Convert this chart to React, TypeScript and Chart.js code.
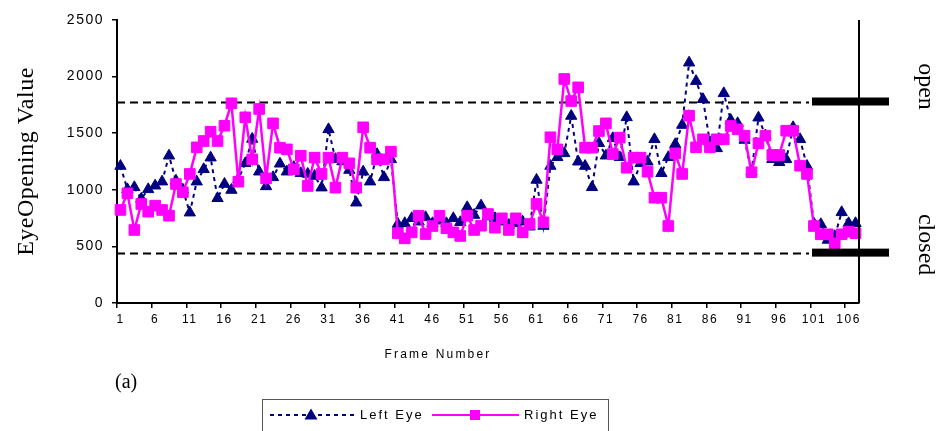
import React, { useEffect, useRef } from "react";
import { Chart, registerables } from "chart.js";

Chart.register(...registerables);

// Frame numbers (categories)
const frames: string[] = Array.from({ length: 107 }, (_, i) => String(i + 1));
const shownFrameLabels: string[] = ["1", "6", "11", "16", "21", "26", "31", "36", "41", "46", "51", "56", "61", "66", "71", "76", "81", "86", "91", "96", "101", "106"];

const leftEye: number[] = [
  1210, 1004, 1022, 920, 1004, 1036, 1072, 1301, 1080, 1000,
  798, 1072, 1181, 1284, 925, 1051, 998, 1093, 1234, 1449,
  1160, 1030, 1110, 1230, 1160, 1200, 1146, 1140, 1122, 1019,
  1534, 1270, 1250, 1175, 886, 1160, 1072, 1314, 1110, 1269,
  698, 704, 748, 718, 757, 704, 727, 704, 748, 713,
  845, 777, 860, 763, 748, 718, 689, 704, 718, 674,
  1087, 680, 1210, 1287, 1322, 1652, 1248, 1210, 1022, 1411,
  1301, 1455, 1287, 1640, 1072, 1234, 1248, 1446, 1146, 1287,
  1402, 1572, 2123, 1960, 1800, 1420, 1366, 1852, 1616, 1587,
  1440, 1160, 1637, 1480, 1270, 1243, 1269, 1552, 1446, 1210,
  700, 695, 557, 590, 801, 704, 704,
];

const rightEye: number[] = [
  822, 969, 645, 875, 807, 860, 822, 771, 1051, 978,
  1140, 1375, 1431, 1513, 1431, 1566, 1764, 1072, 1640, 1269,
  1714, 1101, 1587, 1372, 1357, 1181, 1301, 1034, 1284, 1140,
  1284, 1019, 1284, 1234, 1019, 1552, 1372, 1269, 1269, 1337,
  615, 571, 624, 771, 609, 680, 771, 660, 624, 592,
  771, 645, 683, 786, 665, 748, 645, 748, 624, 698,
  875, 713, 1464, 1357, 1979, 1784, 1905, 1372, 1372, 1519,
  1587, 1316, 1461, 1195, 1284, 1284, 1160, 930, 930, 680,
  1322, 1140, 1655, 1375, 1446, 1375, 1446, 1446, 1564, 1534,
  1478, 1155, 1411, 1478, 1307, 1307, 1522, 1522, 1213, 1140,
  680, 607, 607, 527, 607, 630, 616,
];

const yTickValues: number[] = [0, 500, 1000, 1500, 2000, 2500];
const openLevel = 1780;
const closedLevel = 445;

const NAVY = "#000080";
const MAGENTA = "#FF00FF";
const SERIF = "'Liberation Serif', 'Times New Roman', serif";
const SANS = "'Liberation Sans', Arial, sans-serif";

const decoPlugin = {
  id: "deco",
  beforeDraw(chart: any) {
    chart.ctx.letterSpacing = "1.5px";
  },
  beforeDatasetsDraw(chart: any) {
    const { ctx, chartArea: a, scales } = chart;
    const y = scales.y;
    ctx.save();
    ctx.strokeStyle = "#000";
    ctx.lineWidth = 2;
    ctx.setLineDash([8, 5]);
    for (const v of [openLevel, closedLevel]) {
      const py = Math.round(y.getPixelForValue(v)) + 0.5;
      ctx.beginPath();
      ctx.moveTo(a.left, py);
      ctx.lineTo(a.right - 50, py);
      ctx.stroke();
    }
    ctx.restore();
  },
  afterDraw(chart: any) {
    const { ctx, chartArea: a, scales } = chart;
    const y = scales.y;
    ctx.save();
    ctx.letterSpacing = "0px";
    // right border of plot area
    ctx.strokeStyle = "#000";
    ctx.lineWidth = 2;
    ctx.beginPath();
    ctx.moveTo(a.right, a.top);
    ctx.lineTo(a.right, a.bottom);
    ctx.stroke();

    // thick state bars
    ctx.fillStyle = "#000";
    for (const v of [openLevel, closedLevel]) {
      const py = y.getPixelForValue(v);
      ctx.fillRect(a.right - 47, py - 4, 77, 8);
    }

    // state words
    ctx.fillStyle = "#000";
    ctx.font = `24px ${SERIF}`;
    ctx.textAlign = "center";
    ctx.textBaseline = "middle";
    const tx = a.right + 66;
    const drawRot = (text: string, cy: number) => {
      ctx.save();
      ctx.translate(tx, cy);
      ctx.rotate(Math.PI / 2);
      ctx.fillText(text, 0, 0);
      ctx.restore();
    };
    drawRot("open", y.getPixelForValue(openLevel) - 15);
    drawRot("closed", y.getPixelForValue(closedLevel) - 8);

    // y axis title
    ctx.save();
    ctx.translate(27, (a.top + a.bottom) / 2 + 0);
    ctx.rotate(-Math.PI / 2);
    ctx.font = `24px ${SERIF}`;
    ctx.letterSpacing = "0.5px";
    ctx.fillText("EyeOpening Value", 0, 0);
    ctx.restore();

    // x axis title
    ctx.font = `12px ${SANS}`;
    ctx.letterSpacing = "2.2px";
    ctx.fillText("Frame Number", (a.left + a.right) / 2 - 50, a.bottom + 52);

    // (a)
    ctx.letterSpacing = "0px";
    ctx.font = `20px ${SERIF}`;
    ctx.textAlign = "left";
    ctx.fillText("(a)", a.left - 2, a.bottom + 80);

    // legend
    const ly = a.bottom + 112;
    ctx.strokeStyle = "#555";
    ctx.lineWidth = 1;
    ctx.setLineDash([]);
    ctx.strokeRect(262.5, a.bottom + 96.5, 346, 40);

    ctx.strokeStyle = NAVY;
    ctx.lineWidth = 2;
    ctx.setLineDash([4, 4]);
    ctx.beginPath();
    ctx.moveTo(270, ly);
    ctx.lineTo(355, ly);
    ctx.stroke();
    ctx.setLineDash([]);
    ctx.fillStyle = NAVY;
    ctx.beginPath();
    ctx.moveTo(311, ly - 6.5);
    ctx.lineTo(317.5, ly + 4.5);
    ctx.lineTo(304.5, ly + 4.5);
    ctx.closePath();
    ctx.fill();

    ctx.strokeStyle = MAGENTA;
    ctx.lineWidth = 2;
    ctx.beginPath();
    ctx.moveTo(432, ly);
    ctx.lineTo(519, ly);
    ctx.stroke();
    ctx.fillStyle = MAGENTA;
    ctx.fillRect(470, ly - 5, 10, 10);

    ctx.fillStyle = "#000";
    ctx.font = `13px ${SANS}`;
    ctx.letterSpacing = "2px";
    ctx.textAlign = "left";
    ctx.fillText("Left Eye", 360, ly);
    ctx.fillText("Right Eye", 524, ly);
    ctx.restore();
  },
};

export default function App() {
  const canvasRef = useRef<HTMLCanvasElement | null>(null);

  useEffect(() => {
    document.body.style.margin = "0";
    const canvas = canvasRef.current;
    if (!canvas) return;
    Chart.defaults.font.family = SANS;
    const chart = new Chart(canvas, {
      type: "line",
      data: {
        labels: frames,
        datasets: [
          {
            label: "Left Eye",
            data: leftEye,
            borderColor: NAVY,
            backgroundColor: NAVY,
            borderWidth: 2,
            borderDash: [4, 4],
            pointStyle: "triangle",
            pointRadius: 6.5,
            pointBorderWidth: 1,
            pointBackgroundColor: NAVY,
            pointBorderColor: NAVY,
            tension: 0,
            order: 1,
          },
          {
            label: "Right Eye",
            data: rightEye,
            borderColor: MAGENTA,
            backgroundColor: MAGENTA,
            borderWidth: 2.5,
            pointStyle: "rect",
            pointRadius: 7.5,
            pointBorderWidth: 1,
            pointBackgroundColor: MAGENTA,
            pointBorderColor: MAGENTA,
            tension: 0,
            order: 0,
          },
        ],
      },
      options: {
        responsive: false,
        animation: false,
        events: [],
        layout: { padding: { top: 20, right: 88, left: 0, bottom: 0 } },
        plugins: { legend: { display: false }, tooltip: { enabled: false }, title: { display: false } },
        scales: {
          x: {
            type: "category",
            offset: true,
            grid: {
              offset: true,
              drawOnChartArea: false,
              drawTicks: true,
              tickLength: 5,
              lineWidth: 1.5,
              color: (c: any) => (c.index % 5 === 0 ? "#000" : "rgba(0,0,0,0)"),
            },
            border: { color: "#000", width: 2 },
            ticks: {
              autoSkip: false,
              maxRotation: 0,
              minRotation: 0,
              color: "#000",
              font: { size: 12 },
              padding: 4,
              callback: (_v: any, i: number) => (shownFrameLabels.includes(frames[i]) ? frames[i] : ""),
            },
            afterFit: (s: any) => {
              s.height = 128;
            },
          },
          y: {
            min: yTickValues[0],
            max: yTickValues[yTickValues.length - 1],
            ticks: {
              stepSize: 500,
              color: "#000",
              font: { size: 14 },
              padding: 8,
              callback: (v: any) => String(v),
            },
            grid: { drawOnChartArea: false, tickLength: 5, color: "#000", lineWidth: 1.5 },
            border: { color: "#000", width: 2 },
            afterFit: (s: any) => {
              s.width = 117;
            },
          },
        },
      },
      plugins: [decoPlugin],
    });
    return () => chart.destroy();
  }, []);

  return <canvas ref={canvasRef} width={947} height={431} style={{ display: "block" }} />;
}
